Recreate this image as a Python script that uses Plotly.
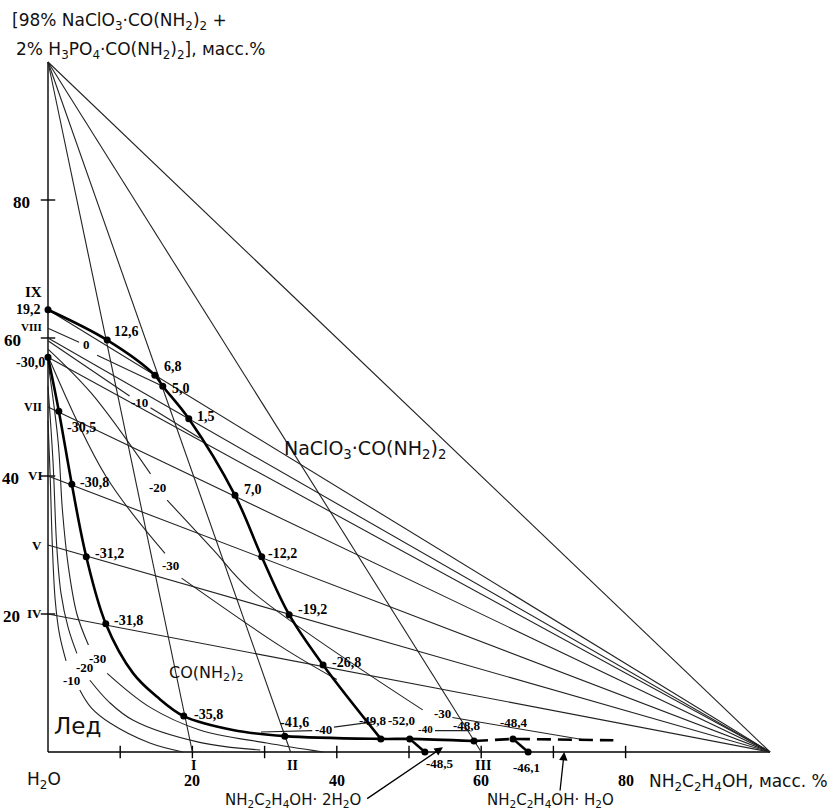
import plotly.graph_objects as go

# ---------------- data (mass %, x = NH2C2H4OH, y = salt complex) ----------------
# sections drawn from the salt-complex vertex (0, 100) down to the amine axis
sec_top_x = [20, 33.6, 60]
sec_top_names = ["I", "II", "III"]

# sections drawn from the amine vertex (100, 0) to the water-salt side
sec_right_y = [20, 30, 40, 50, 57.2, 60, 64.1]

# boundary curve NaClO3·CO(NH2)2 / CO(NH2)2
curveA_x = [0, 8.2, 14.8, 15.9, 19.5, 25.9, 29.6, 33.4, 38.1, 46.1]
curveA_y = [64.1, 59.7, 54.6, 53.0, 48.3, 37.2, 28.3, 19.9, 12.6, 1.9]
curveA_t = ["19,2", "12,6", "6,8", "5,0", "1,5", "7,0", "-12,2", "-19,2", "-26,8", ""]

# boundary curve ice / CO(NH2)2 and its continuation along the amine side
curveB_x = [0, 1.5, 3.3, 5.3, 8.0, 11.8, 15.1, 18.8, 25.6, 32.8, 46.1, 50.1, 59.0]
curveB_y = [57.2, 49.4, 38.8, 28.3, 18.6, 11.4, 8.0, 5.2, 3.2, 2.3, 1.9, 1.9, 1.6]
curveB_t = ["-30,0", "-30,5", "-30,8", "-31,2", "-31,8", "", "", "-35,8", "", "-41,6", "-49,8", "-52,0", "-48,8"]

# metastable continuation (dashed)
dash_x = [59.0, 64.4, 78.3]
dash_y = [1.6, 1.9, 1.7]

# short branches down to the amine axis
branch1_x, branch1_y = [50.1, 52.2], [1.9, 0.0]
branch2_x, branch2_y = [64.4, 66.5], [1.9, 0.0]

# isotherms in the ice field (upper part, lower part)
ice_iso = {
    "-10": ([0, 0.3, 0.6, 1.0, 1.6, 2.5], [48, 40, 30, 22, 17, 13.2],
            [4.4, 6.0, 8.6, 14.1, 18.7], [9.0, 6.4, 4.2, 1.3, 0.0]),
    "-20": ([0, 0.7, 1.2, 1.8, 2.8, 4.0], [53, 42, 30, 23, 18, 14.3],
            [5.8, 8.5, 11.8, 21.0, 29.4], [10.4, 7.2, 4.6, 1.4, 0.3]),
    "-30": ([0, 1.4, 2.0, 2.8, 4.0, 5.6], [56.5, 45, 35, 27, 20, 15.5],
            [8.2, 14.1, 21.0, 30.3, 38.1], [11.4, 6.5, 3.2, 1.3, 0.0]),
}

# isotherms in the CO(NH2)2 and NaClO3·CO(NH2)2 fields
urea_iso = [
    ([0, 4.3], [61.4, 59.4]), ([6.8, 15.9], [57.5, 53.0]),
    ([0, 11.3], [59.6, 51.6]), ([14.2, 21.0], [49.9, 45.5]),
    ([0, 6.0, 14.2], [58.4, 52.0, 40.3]), ([16.5, 22.9, 28.0, 51.9], [36.5, 29.3, 23.5, 6.1]),
    ([0, 8.0, 16.2], [57.4, 40.0, 28.8]), ([18.5, 32.4, 40.0], [25.2, 15.2, 10.5]),
    ([29.5, 36.6], [2.9, 3.1]), ([39.6, 45.3], [3.6, 4.4]),
    ([53.6, 58.5], [3.1, 3.1]), ([56.0, 74.0], [5.0, 1.8]),
]
iso_labels = [
    (5.3, 59.0, "0"), (12.7, 50.7, "-10"), (15.1, 38.4, "-20"), (17.0, 27.1, "-30"),
    (3.3, 10.4, "-10"), (5.0, 12.2, "-20"), (6.8, 13.6, "-30"),
    (38.1, 3.2, "-40"), (54.6, 5.6, "-30"),
]
iso_labels_small = [(52.3, 3.4, "-40")]

x_ticks = [10, 20, 30, 40, 50, 60, 70, 80]
x_tick_labels = [20, 40, 60, 80]
y_ticks = [20, 40, 60, 80]

# ---------------- figure ----------------
PX_X, PX_Y = 7.22, 6.9          # pixels per percent
X0, Y0 = 48, 752                 # pixel position of the water corner
W, H = 836, 812
xr = [-X0 / PX_X, (W - X0) / PX_X]
yr = [-(H - Y0) / PX_Y, Y0 / PX_Y]

fig = go.Figure()


def polylines(segments, color, width, shape="linear", dash=None):
    """Draw several polylines as one trace, separated by gaps."""
    xs, ys = [], []
    for sx, sy in segments:
        xs += list(sx) + [None]
        ys += list(sy) + [None]
    ln = dict(color=color, width=width, shape=shape)
    if dash:
        ln["dash"] = dash
    fig.add_trace(go.Scatter(x=xs, y=ys, mode="lines", line=ln, connectgaps=False,
                             hoverinfo="skip", showlegend=False, cliponaxis=False))


# triangle legs, ticks
frame = [([0, 0], [0, 100]), ([0, 100], [0, 0])]
frame += [([t, t], [-0.9, 0.9]) for t in x_ticks]
frame += [([-1.0, 1.0], [t, t]) for t in y_ticks]
polylines(frame, "#000", 1.4)

# hypotenuse and sections
straight = [([0, 100], [100, 0])]
straight += [([0, xs], [100, 0]) for xs in sec_top_x]
straight += [([0, 100], [ys, 0]) for ys in sec_right_y]
polylines(straight, "#222", 1.1)

# isotherms
iso = []
for name, (xa, ya, xb, yb) in ice_iso.items():
    iso += [(xa, ya), (xb, yb)]
iso += urea_iso
polylines(iso, "#222", 1.1, shape="spline")

# boundary curves
polylines([(curveA_x, curveA_y), (curveB_x, curveB_y)], "#000", 2.6, shape="spline")
polylines([(branch1_x, branch1_y), (branch2_x, branch2_y)], "#000", 2.6)
polylines([(dash_x, dash_y)], "#000", 2.6, dash="14px,7px")

# points
pts_x = [x for x, t in zip(curveA_x, curveA_t) if t] + [x for x, t in zip(curveB_x, curveB_t) if t] \
    + [branch1_x[1], branch2_x[0], branch2_x[1]]
pts_y = [y for y, t in zip(curveA_y, curveA_t) if t] + [y for y, t in zip(curveB_y, curveB_t) if t] \
    + [branch1_y[1], branch2_y[0], branch2_y[1]]
fig.add_trace(go.Scatter(x=pts_x, y=pts_y, mode="markers", marker=dict(color="#000", size=7),
                         hoverinfo="skip", showlegend=False, cliponaxis=False))

ann = []


def serif(size):
    return dict(family="Liberation Serif", size=size, color="#000", weight="bold")


NUM, NUM_S, NUM_XS = serif(14), serif(13), serif(11)
AXN = serif(16)
SANS = dict(family="DejaVu Sans", size=17, color="#111")
SANS_B = dict(family="DejaVu Sans", size=15, color="#111")


def txt(x, y, s, font, xa="center", ya="middle"):
    ann.append(dict(x=x, y=y, text=s, showarrow=False, font=font, xanchor=xa, yanchor=ya))


# point labels
num_pos = {
    "19,2": (-0.7, 64.1, "right"), "12,6": (8.9, 60.9, "left"), "6,8": (15.8, 55.8, "left"),
    "5,0": (16.9, 52.7, "left"), "1,5": (20.4, 48.6, "left"), "7,0": (26.8, 38.0, "left"),
    "-12,2": (30.2, 28.8, "left"), "-19,2": (34.4, 20.6, "left"), "-26,8": (39.1, 13.0, "left"),
    "-30,0": (-0.2, 56.5, "right"), "-30,5": (2.3, 47.1, "left"), "-30,8": (4.2, 39.0, "left"),
    "-31,2": (6.3, 28.8, "left"), "-31,8": (8.9, 19.1, "left"), "-35,8": (20.0, 5.4, "left"),
    "-41,6": (34.1, 4.3, "center"),
}
for k, (x, y, a) in num_pos.items():
    txt(x, y, k, NUM, xa=a)
num_pos_s = {
    "-49,8": (45.0, 4.6), "-52,0": (49.0, 4.6), "-48,8": (58.0, 3.8), "-48,4": (64.5, 4.3),
    "-48,5": (54.3, -1.6), "-46,1": (66.3, -2.3),
}
for k, (x, y) in num_pos_s.items():
    txt(x, y, k, NUM_S)
for x, y, s in iso_labels:
    txt(x, y, s, NUM_S)
for x, y, s in iso_labels_small:
    txt(x, y, s, NUM_XS)

# section names
rom = [("IV", 20.1, 13), ("V", 29.9, 13), ("VI", 40.1, 13), ("VII", 50.0, 12),
       ("VIII", 61.6, 11), ("IX", 66.7, 15)]
for n, y, s in rom:
    txt(-0.6, y, n, serif(s), xa="right")
for n, x in zip(sec_top_names, sec_top_x):
    txt(x + 0.2, -1.9, n, serif(14))

# axis numbers
for t in x_tick_labels:
    txt(t, -4.2, str(t), AXN)
for t in y_ticks:
    xpos = {80: -2.2, 60: -3.4, 40: -3.8, 20: -3.6}[t]
    txt(xpos, t - 0.3, str(t), serif(17), xa="right")

# names
txt(-5.3, 105.8, "[98% NaClO<sub>3</sub>·CO(NH<sub>2</sub>)<sub>2</sub> +", SANS, xa="left")
txt(-4.7, 101.6, "2% H<sub>3</sub>PO<sub>4</sub>·CO(NH<sub>2</sub>)<sub>2</sub>], масс.%", SANS, xa="left")
txt(32.4, 43.8, "NaClO<sub>3</sub>·CO(NH<sub>2</sub>)<sub>2</sub>", dict(family="DejaVu Sans", size=19, color="#111"),
    xa="left")
txt(16.5, 11.4, "CO(NH<sub>2</sub>)<sub>2</sub>", dict(family="DejaVu Sans", size=16, color="#111"), xa="left")
txt(0.6, 3.7, "Лед", dict(family="DejaVu Sans", size=23, color="#111"), xa="left")
txt(-0.55, -4.1, "H<sub>2</sub>O", SANS)
txt(83.0, -4.35, "NH<sub>2</sub>C<sub>2</sub>H<sub>4</sub>OH, масс. %", SANS, xa="left")
txt(24.2, -8.65, "NH<sub>2</sub>C<sub>2</sub>H<sub>4</sub>OH· 2H<sub>2</sub>O", SANS_B, xa="left", ya="bottom")
txt(60.5, -8.65, "NH<sub>2</sub>C<sub>2</sub>H<sub>4</sub>OH· H<sub>2</sub>O", SANS_B, xa="left", ya="bottom")

# arrows to the hydrate compositions
ann.append(dict(x=54.7, y=0.7, ax=44.0, ay=-6.9, axref="x", ayref="y", xref="x", yref="y",
                showarrow=True, arrowhead=2, arrowsize=1.3, arrowwidth=1.3, arrowcolor="#000", text=""))
ann.append(dict(x=71.5, y=0.0, ax=70.9, ay=-5.8, axref="x", ayref="y", xref="x", yref="y",
                showarrow=True, arrowhead=2, arrowsize=1.3, arrowwidth=1.3, arrowcolor="#000", text=""))

fig.update_layout(
    width=W, height=H, margin=dict(l=0, r=0, t=0, b=0),
    paper_bgcolor="white", plot_bgcolor="white",
    xaxis=dict(range=xr, visible=False, fixedrange=True),
    yaxis=dict(range=yr, visible=False, fixedrange=True),
    annotations=ann, showlegend=False,
)
fig.write_html("out.html")
